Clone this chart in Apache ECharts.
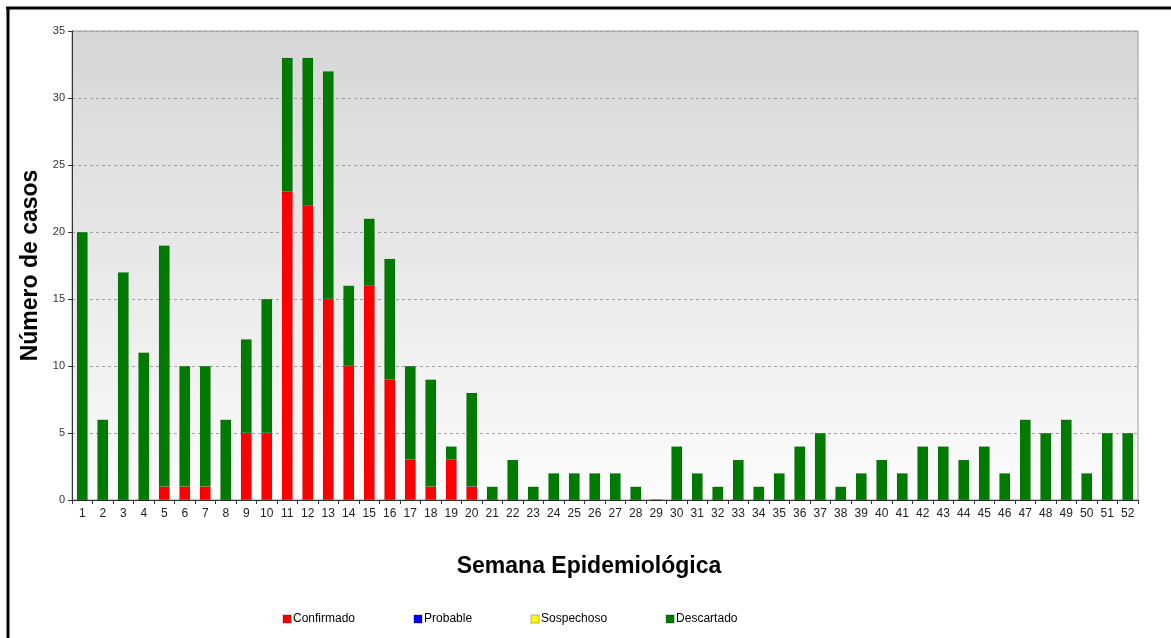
<!DOCTYPE html>
<html>
<head>
<meta charset="utf-8">
<script src="https://cdn.jsdelivr.net/npm/echarts@6/dist/echarts.min.js"></script>
<style>
html,body{margin:0;padding:0;background:#fff;}
#chart{width:1171px;height:638px;}
</style>
</head>
<body>
<div id="chart"></div>
<script>
const weeks = ['1','2','3','4','5','6','7','8','9','10','11','12','13','14','15','16','17','18','19','20','21','22','23','24','25','26','27','28','29','30','31','32','33','34','35','36','37','38','39','40','41','42','43','44','45','46','47','48','49','50','51','52'];
const confirmado = [0,0,0,0,1,1,1,0,5,5,23,22,15,10,16,9,3,1,3,1,0,0,0,0,0,0,0,0,0,0,0,0,0,0,0,0,0,0,0,0,0,0,0,0,0,0,0,0,0,0,0,0];
const probable = new Array(52).fill(0);
const sospechoso = new Array(52).fill(0);
const descartado = [20,6,17,11,18,9,9,6,7,10,10,11,17,6,5,9,7,8,1,7,1,3,1,2,2,2,2,1,0,4,2,1,3,1,2,4,5,1,2,3,2,4,4,3,4,2,6,5,6,2,5,5];
const yTicks = [0,5,10,15,20,25,30,35];

const chart = echarts.init(document.getElementById('chart'), null, {renderer:'canvas'});
const barW = 11;
function mk(name, data, color){
  return {name, type:'bar', stack:'total', data, barWidth:barW,
    itemStyle:{color, borderColor: 'rgba(0,0,0,0.15)', borderWidth: 0.5},
    emphasis:{disabled:true}, animation:false};
}
chart.setOption({
  animation:false,
  backgroundColor:'#fff',
  textStyle:{fontFamily:'Liberation Sans, Arial, sans-serif'},
  grid:{left:72, top:31, right:33, bottom:138, show:true, borderColor:'#999', borderWidth:1,
    backgroundColor:new echarts.graphic.LinearGradient(0,0,0,1,[{offset:0,color:'#d6d6d6'},{offset:1,color:'#fcfcfc'}])},
  legend:{left:277, top:608, icon:'rect', itemWidth:8, itemHeight:8, itemGap:58,
    textStyle:{fontSize:12, color:'#000', fontFamily:'Liberation Sans, Arial, sans-serif', padding:[0,0,0,-3]},
    data:['Confirmado','Probable','Sospechoso','Descartado']},
  xAxis:{type:'category', data:weeks,
    name:'Semana Epidemiológica', nameLocation:'middle', nameGap:55,
    nameTextStyle:{fontSize:23, fontWeight:'bold', color:'#000', padding:[0,32,0,0]},
    axisLine:{lineStyle:{color:'#333'}},
    axisTick:{show:true, length:4, lineStyle:{color:'#333'}},
    axisLabel:{color:'#222', fontSize:12, margin:8, interval:0}},
  yAxis:{type:'value', min:0, max:35, interval:5,
    name:'Número de casos', nameLocation:'middle', nameGap:25,
    nameTextStyle:{fontSize:23, fontWeight:'bold', color:'#000'},
    axisLine:{show:true, lineStyle:{color:'#333'}},
    axisTick:{show:true, length:4, lineStyle:{color:'#333'}},
    axisLabel:{color:'#333', fontSize:11, margin:7},
    splitLine:{show:true, lineStyle:{color:'#a0a0a0', type:[3,3]}}},
  graphic:[
    {type:'line', shape:{x1:6, y1:8, x2:1171, y2:8}, style:{stroke:'#000', lineWidth:3}, z:100},
    {type:'line', shape:{x1:8, y1:7, x2:8, y2:638}, style:{stroke:'#000', lineWidth:3}, z:100}
  ],
  series:[
    mk('Confirmado', confirmado, '#ff0000'),
    mk('Probable', probable, '#0000ff'),
    mk('Sospechoso', sospechoso, '#ffff00'),
    mk('Descartado', descartado, '#007a00')
  ]
});
</script>
</body>
</html>
